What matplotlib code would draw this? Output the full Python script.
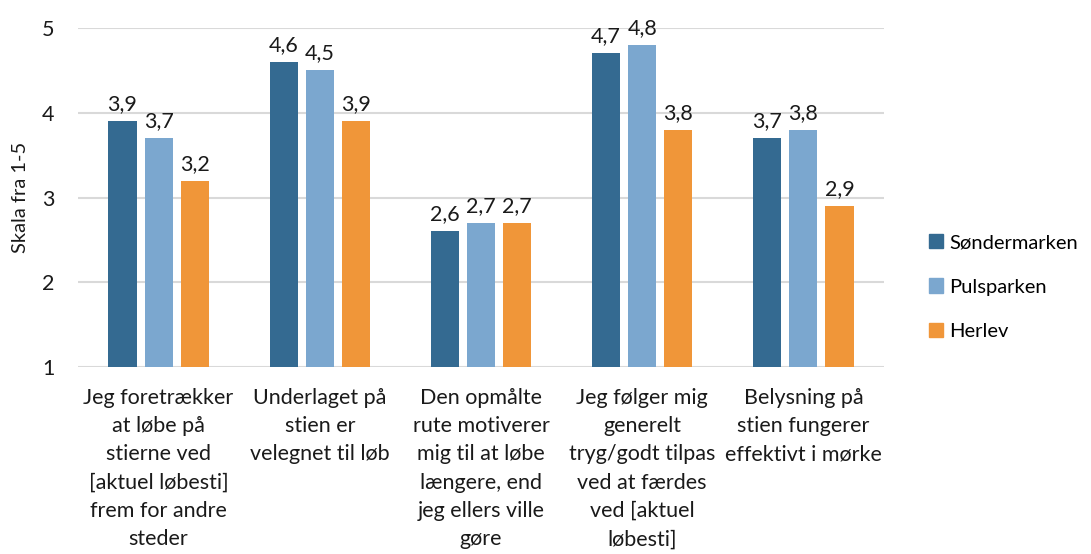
import numpy as np
import matplotlib
matplotlib.use("Agg")
import matplotlib.pyplot as plt
import matplotlib.patches as mpatches

plt.rcParams["font.family"] = ["Lato", "DejaVu Sans"]

categories = [
    "Jeg foretrækker\nat løbe på\nstierne ved\n[aktuel løbesti]\nfrem for andre\nsteder",
    "Underlaget på\nstien er\nvelegnet til løb",
    "Den opmålte\nrute motiverer\nmig til at løbe\nlængere, end\njeg ellers ville\ngøre",
    "Jeg følger mig\ngenerelt\ntryg/godt tilpas\nved at færdes\nved [aktuel\nløbesti]",
    "Belysning på\nstien fungerer\neffektivt i mørke",
]
series = ["Søndermarken", "Pulsparken", "Herlev"]
soendermarken = [3.9, 4.6, 2.6, 4.7, 3.7]
pulsparken = [3.7, 4.5, 2.7, 4.8, 3.8]
herlev = [3.2, 3.9, 2.7, 3.8, 2.9]
values = [soendermarken, pulsparken, herlev]
colors = ["#346A91", "#7BA7CF", "#F09639"]

W, H = 1091, 554
fig = plt.figure(figsize=(W / 100, H / 100), dpi=100)
ax = fig.add_axes([78 / W, 1 - 367 / H, (884 - 78) / W, (367 - 28) / H])

x = np.arange(len(categories))
bw = 0.174
step = 0.224
FS = 15.5

for i, (name, vals, col) in enumerate(zip(series, values, colors)):
    pos = x + (i - 1) * step
    ax.bar(pos, np.array(vals) - 1, bottom=1, width=bw, color=col,
           label=name, zorder=3)
    for p, v in zip(pos, vals):
        ax.annotate(f"{v:.1f}".replace(".", ","), (p, v), xytext=(0, 5),
                    textcoords="offset points", ha="center", va="bottom",
                    fontsize=FS, color="#1a1a1a")

ax.set_xlim(-0.5, len(categories) - 0.5)
ax.set_ylim(1, 5)
ax.set_yticks([1, 2, 3, 4, 5])
ax.yaxis.grid(True, color="#D9D9D9", linewidth=1.5, zorder=0)
for s in ax.spines.values():
    s.set_visible(False)
ax.tick_params(axis="both", length=0, labelsize=FS, colors="#1a1a1a")
ax.tick_params(axis="y", pad=17)
ax.tick_params(axis="x", pad=15)
ax.set_xticks(x)
ax.set_xticklabels(categories, linespacing=1.52)
ax.set_ylabel("Skala fra 1-5", fontsize=14.5, color="#1a1a1a", labelpad=9)

handles = [mpatches.Patch(color=c, label=n) for n, c in zip(series, colors)]
fig.legend(handles=handles, loc="center left", bbox_to_anchor=(923 / W, 1 - 287 / H),
           frameon=False, fontsize=14.5, handlelength=0.7, handleheight=0.7,
           handletextpad=0.3, labelspacing=1.35, borderaxespad=0, borderpad=0.3)

fig.savefig("out.png", dpi=100)
